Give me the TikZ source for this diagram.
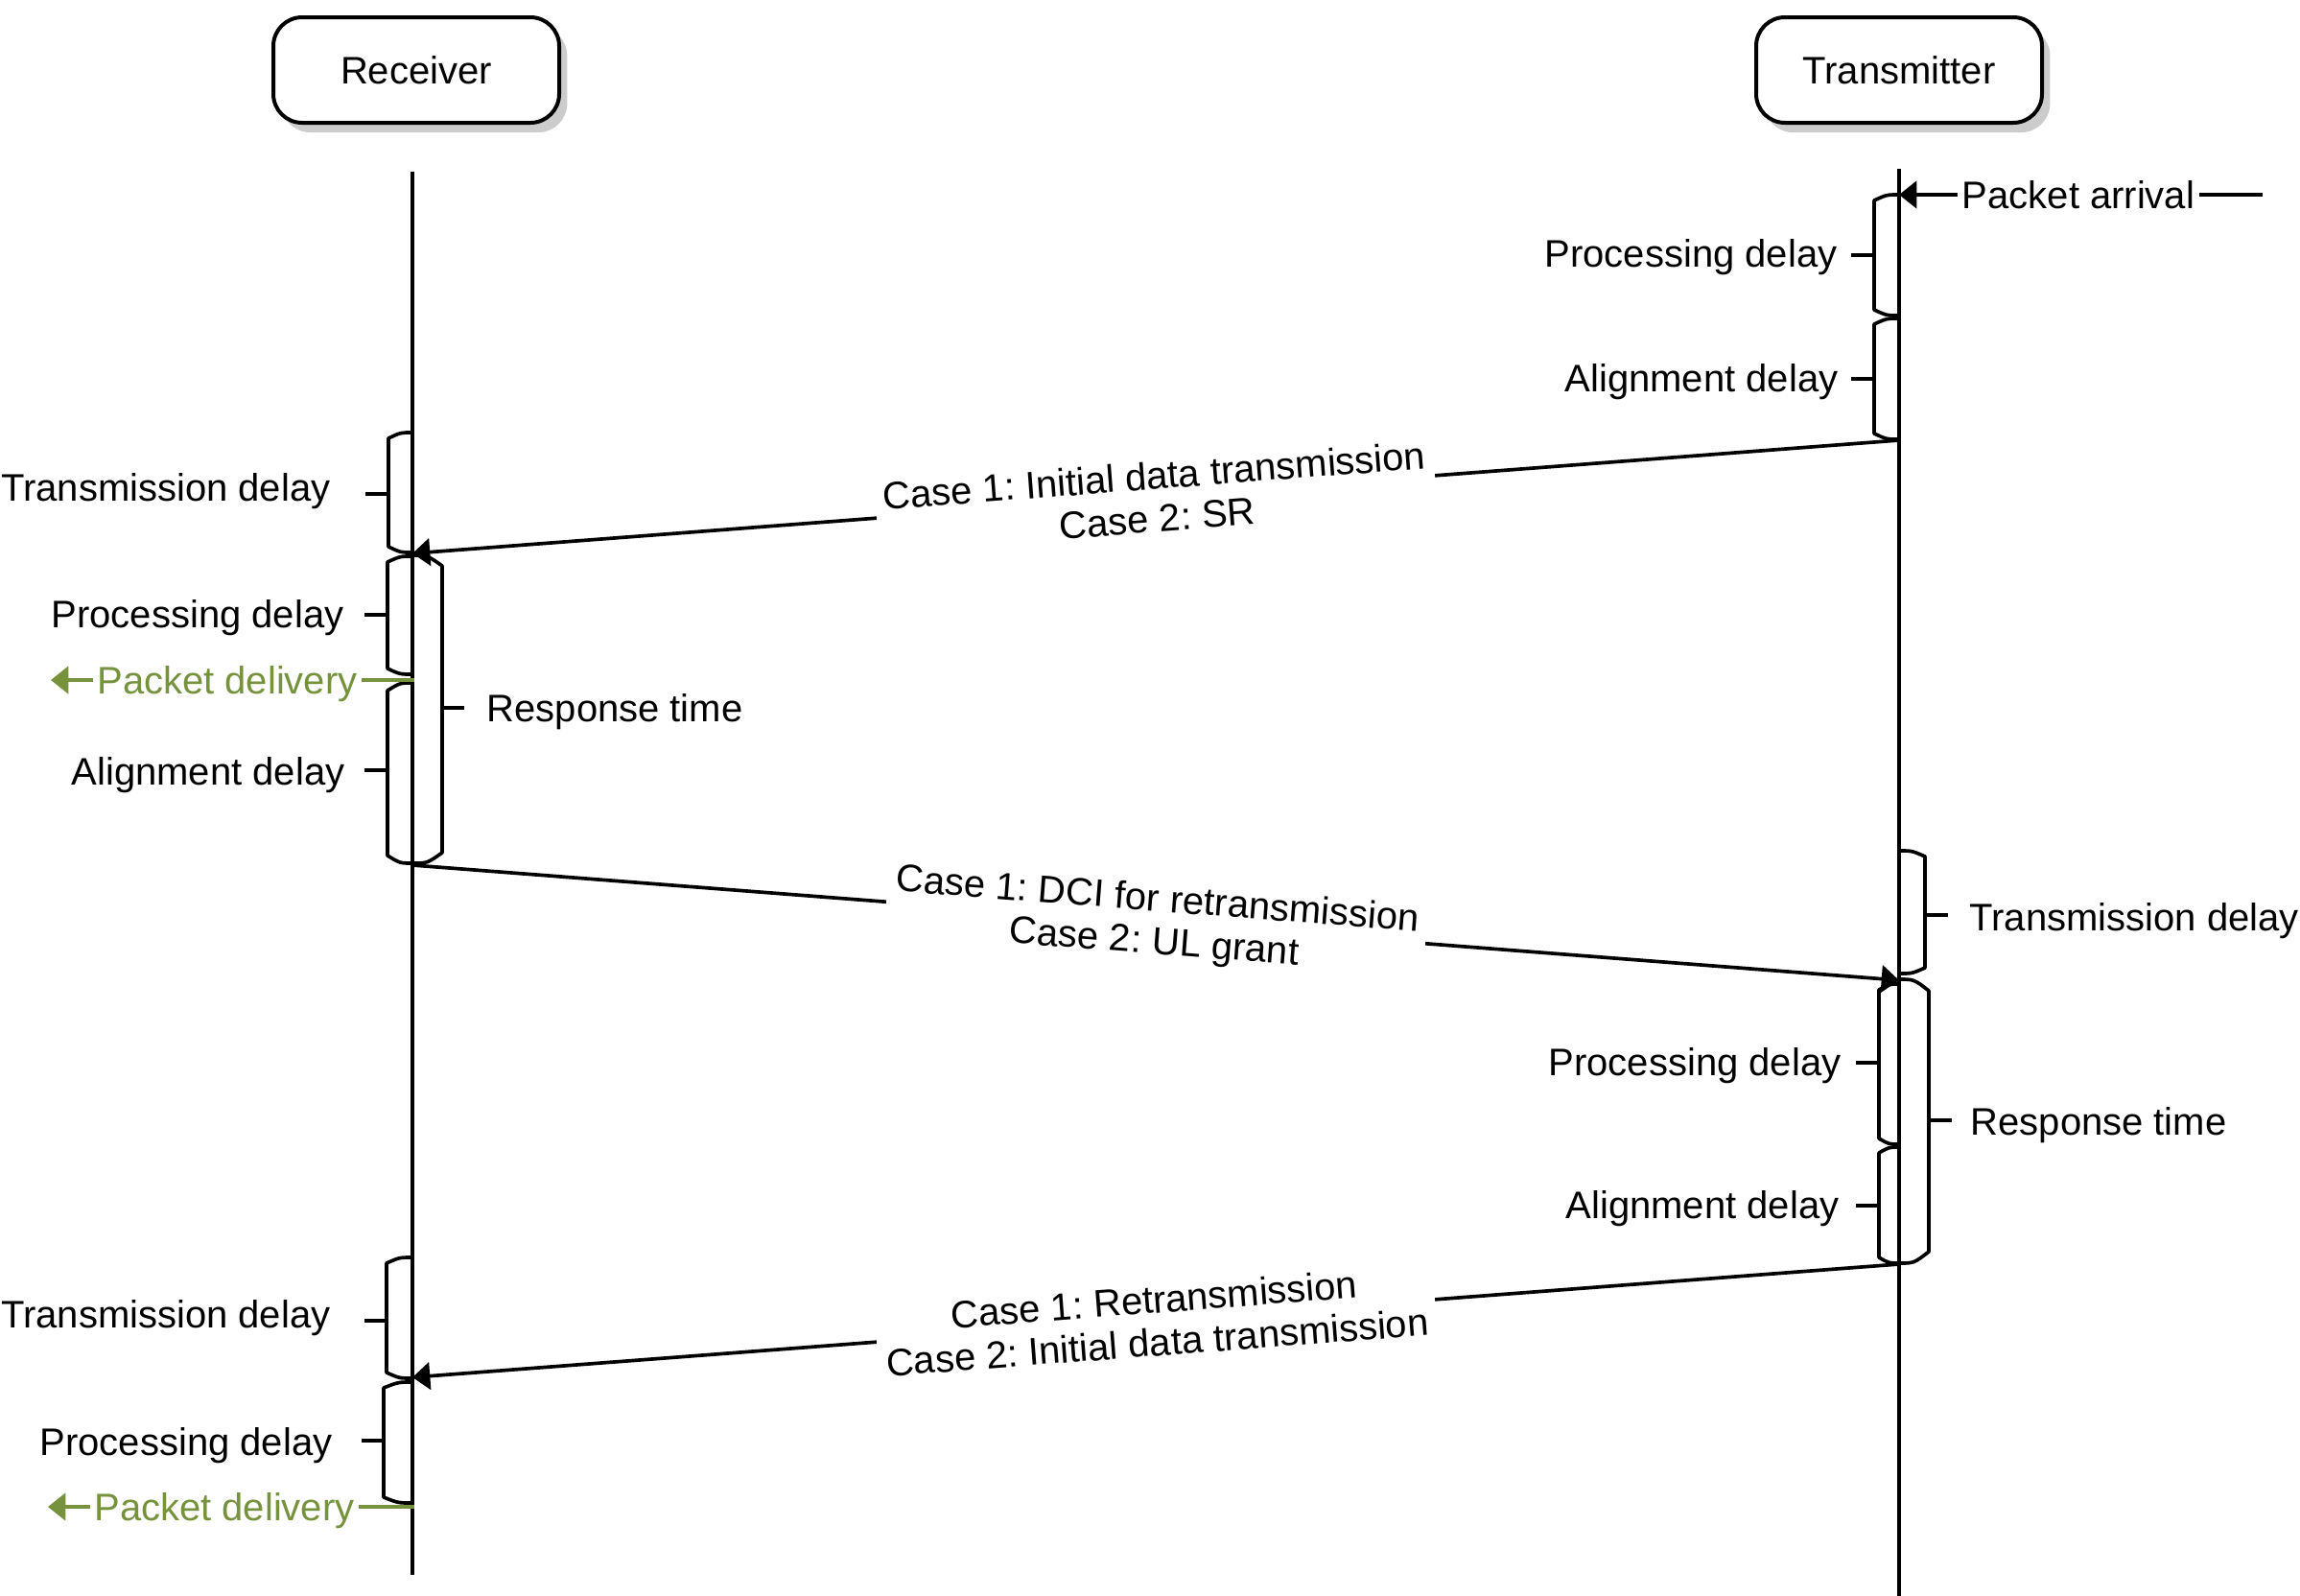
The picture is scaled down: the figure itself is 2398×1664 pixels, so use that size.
\documentclass[tikz,border=0pt]{standalone}
\usepackage{fontspec}
\setmainfont{Liberation Sans}
\usetikzlibrary{arrows.meta,shadows}
\definecolor{pdgreen}{RGB}{118,146,60}
\frenchspacing
\newcommand\LBr[5]{\draw[brk] (#1,#2) .. controls ({#1-0.5*#4},#2) .. ({#1-#4},{#2+#5}) -- ({#1-#4},{#3-#5}) .. controls ({#1-0.5*#4},#3) .. (#1,#3);}
\newcommand\RBr[5]{\draw[brk] (#1,#2) .. controls ({#1+0.5*#4},#2) .. ({#1+#4},{#2+#5}) -- ({#1+#4},{#3-#5}) .. controls ({#1+0.5*#4},#3) .. (#1,#3);}
\begin{document}
\begin{tikzpicture}[x=0.3pt,y=-0.3pt,
  every node/.style={font=\fontsize{12}{13.4}\selectfont},
  lifeline/.style={line width=1.1pt},
  brk/.style={line width=1.1pt, line join=round},
  tickln/.style={line width=1.1pt},
  msg/.style={line width=1.1pt, -{Triangle[length=5.5pt,width=8.5pt]}},
  msglabel/.style={sloped, fill=white, inner sep=2.5pt, align=center},
  box/.style={draw, line width=1.2pt, rounded corners=9pt, fill=white,
    minimum width=89.4pt, minimum height=33pt,
    drop shadow={shadow xshift=2.5pt, shadow yshift=-3pt, fill=black!40, opacity=0.5}},
  lbl/.style={inner sep=0pt},
  inl/.style={inner sep=1.2pt, text height=8.6pt, text depth=0pt},
  ]
\useasboundingbox (0,0) rectangle (2398,1664);

% participants
\node[box] (rx) at (434,73) {Receiver};
\node[box] (tx) at (1980,73) {Transmitter};

% lifelines
\coordinate (rxtop) at (430,179);
\coordinate (rxbot) at (430,1642);
\coordinate (txtop) at (1980,176);
\coordinate (txbot) at (1980,1664);
\draw[lifeline] (rxtop) -- (rxbot);
\draw[lifeline] (txtop) -- (txbot);

% packet arrival
\node[inl] (parr) at (2167,203) {Packet arrival};
\coordinate (parrR) at (2359,203);
\coordinate (parrT) at (1980,203);
\draw[line width=1.1pt] (parrR) -- (parr.east);
\draw[msg] (parr.west) -- (parrT);

% transmitter upper brackets
\LBr{1980}{203}{329}{26}{6}
\LBr{1980}{332}{458}{26}{6}
\draw[tickln] (1954,266) -- (1930,266);
\draw[tickln] (1954,395) -- (1930,395);
\node[lbl, anchor=base east] (pdt1) at (1916,278) {Processing delay};
\node[lbl, anchor=base east] (adt1) at (1917,408) {Alignment delay};

% message 1
\coordinate (m1s) at (1980,459);
\coordinate (m1e) at (430,577);
\draw[msg] (m1s) -- node[msglabel] (m1l) {Case 1: Initial data transmission\\Case 2: SR} (m1e);

% receiver upper brackets
\LBr{430}{451}{576}{25}{6}
\LBr{430}{580}{703}{26}{6}
\LBr{430}{712}{900}{26}{8}
\RBr{430}{579}{900}{31}{11}
\draw[tickln] (405,515) -- (381,515);
\draw[tickln] (404,641) -- (380,641);
\draw[tickln] (404,803) -- (380,803);
\draw[tickln] (461,738) -- (484,738);
\node[lbl, anchor=base east] (tdr1) at (345,522) {Transmission delay};
\node[lbl, anchor=base east] (pdr1) at (359,654) {Processing delay};
\node[lbl, anchor=base east] (adr1) at (360,818) {Alignment delay};
\node[lbl, anchor=base west] (rtr1) at (507,752) {Response time};

% packet delivery 1
\node[inl, text=pdgreen] (pdel1) at (237,709) {Packet delivery};
\coordinate (pdel1s) at (432,709);
\coordinate (pdel1t) at (53,709);
\draw[line width=1.1pt, pdgreen] (pdel1s) -- (pdel1.east);
\draw[msg, pdgreen] (pdel1.west) -- (pdel1t);

% message 2
\coordinate (m2s) at (430,902);
\coordinate (m2e) at (1980,1022);
\draw[msg] (m2s) -- node[msglabel] (m2l) {Case 1: DCI for retransmission\\Case 2: UL grant} (m2e);

% transmitter lower brackets
\RBr{1980}{887}{1015}{27}{6}
\LBr{1980}{1026}{1193}{21}{6}
\LBr{1980}{1196}{1317}{21}{6}
\RBr{1980}{1021}{1317}{31}{12}
\draw[tickln] (2007,954) -- (2031,954);
\draw[tickln] (1959,1108) -- (1935,1108);
\draw[tickln] (1959,1257) -- (1935,1257);
\draw[tickln] (2011,1168) -- (2035,1168);
\node[lbl, anchor=base west] (tdt) at (2053,970) {Transmission delay};
\node[lbl, anchor=base east] (pdt2) at (1920,1121) {Processing delay};
\node[lbl, anchor=base east] (adt2) at (1918,1270) {Alignment delay};
\node[lbl, anchor=base west] (rtt) at (2054,1183) {Response time};

% message 3
\coordinate (m3s) at (1980,1318);
\coordinate (m3e) at (430,1436);
\draw[msg] (m3s) -- node[msglabel] (m3l) {Case 1: Retransmission\\Case 2: Initial data transmission} (m3e);

% receiver lower brackets
\LBr{430}{1311}{1437}{27}{6}
\LBr{430}{1441}{1567}{30}{6}
\draw[tickln] (403,1377) -- (380,1377);
\draw[tickln] (400,1502) -- (377,1502);
\node[lbl, anchor=base east] (tdr2) at (345,1384) {Transmission delay};
\node[lbl, anchor=base east] (pdr2) at (347,1517) {Processing delay};

% packet delivery 2
\node[inl, text=pdgreen] (pdel2) at (234,1571) {Packet delivery};
\coordinate (pdel2s) at (432,1571);
\coordinate (pdel2t) at (50,1571);
\draw[line width=1.1pt, pdgreen] (pdel2s) -- (pdel2.east);
\draw[msg, pdgreen] (pdel2.west) -- (pdel2t);
\end{tikzpicture}
\end{document}
